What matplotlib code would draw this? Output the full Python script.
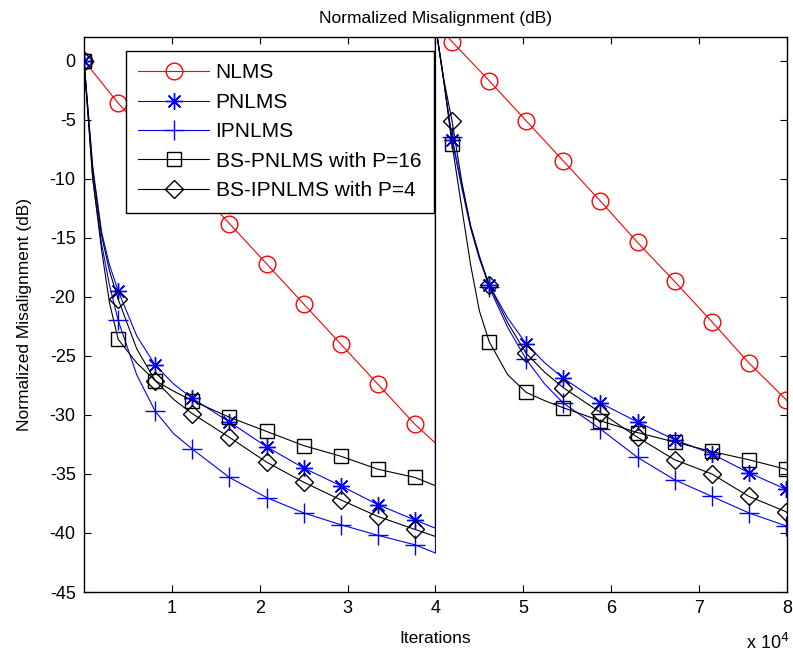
import matplotlib
matplotlib.use('Agg')
import matplotlib.pyplot as plt

plt.rcParams['font.family'] = ['Liberation Sans', 'DejaVu Sans']
plt.rcParams['axes.unicode_minus'] = False

# iteration grid for the proportionate / block-sparse curves
iters = [0, 500, 1000, 2000, 2900, 3890, 6000, 8112, 10220, 12334, 16556, 20778,
         25000, 29222, 33444, 37666, 39999, 40000, 41000, 41888, 43000, 44000,
         45000, 46110, 48221, 50332, 52443, 54554, 58776, 62998, 67220, 71442,
         75664, 79886, 80000]

# iterations where markers are drawn
marker_iters = [0, 3890, 8112, 12334, 16556, 20778, 25000, 29222, 33444, 37666,
                41888, 46110, 50332, 54554, 58776, 62998, 67220, 71442, 75664, 79886]

iters_nlms = [0, 3890, 8112, 12334, 16556, 20778, 25000, 29222, 33444, 37666, 39999,
              40000, 41888, 46110, 50332, 54554, 58776, 62998, 67220, 71442, 75664,
              79886, 80000]
nlms = [0, -3.6, -7.0, -10.4, -13.8, -17.2, -20.6, -24.0, -27.4, -30.8, -32.4,
        3.2, 1.6, -1.7, -5.1, -8.5, -11.9, -15.4, -18.7, -22.1, -25.6, -28.7, -28.8]

pnlms = [0, -4.5, -9, -14.5, -17.3, -19.5, -23.3, -25.8, -27.4, -28.6, -30.6, -32.7,
         -34.5, -36.0, -37.6, -38.9, -39.6, 3, -2, -6.7, -10.8, -14.2,
         -16.8, -19.0, -21.8, -24.0, -25.6, -26.9, -29.0, -30.6, -32.1, -33.3,
         -34.9, -36.3, -36.4]

ipnlms = [0, -5, -10, -15.5, -19, -22, -26.6, -29.7, -31.6, -32.9, -35.3, -37.0,
          -38.3, -39.3, -40.2, -41.0, -41.7, 3, -2, -6.5, -10.6, -14,
          -16.6, -19.2, -22.6, -25.3, -27.4, -29.0, -31.2, -33.6, -35.5, -36.9,
          -38.3, -39.4, -39.5]

bs_pnlms = [0, -5, -10, -16, -20.5, -23.6, -25.6, -27.1, -28.0, -28.8, -30.2, -31.4,
            -32.6, -33.5, -34.6, -35.3, -36.0, 3, -2, -7.1, -12.5, -17.3,
            -21.2, -23.8, -26.6, -28.1, -28.8, -29.4, -30.5, -31.5, -32.3, -33.1,
            -33.8, -34.6, -34.7]

bs_ipnlms = [0, -4.6, -9.3, -14.8, -17.8, -20.2, -24.4, -27.1, -28.7, -29.9, -31.9, -34.0,
             -35.7, -37.2, -38.6, -39.7, -40.3, 3, -1.8, -5.1, -10.3, -14,
             -16.6, -19.0, -22.2, -24.8, -26.4, -27.7, -29.8, -31.9, -33.8, -35.0,
             -36.9, -38.2, -38.3]

mk = [i for i, x in enumerate(iters) if x in marker_iters]
mk_nlms = [i for i, x in enumerate(iters_nlms) if x in marker_iters]

fig = plt.figure(figsize=(7.93, 6.53), dpi=100)
ax = fig.add_axes([0.1059, 0.0934, 0.8865, 0.8499])

lw = 0.8
ax.plot(iters_nlms, nlms, color='red', lw=lw, marker='o', ms=12, mfc='none',
        mec='red', markevery=mk_nlms, label='NLMS')
ax.plot(iters, pnlms, color='blue', lw=lw, marker=(8, 2, 0), ms=12,
        mec='blue', markevery=mk, label='PNLMS')
ax.plot(iters, ipnlms, color='blue', lw=lw, marker='+', ms=14, mew=1,
        markevery=mk, label='IPNLMS')
ax.plot(iters, bs_pnlms, color='black', lw=lw, marker='s', ms=10, mfc='none',
        mec='black', markevery=mk, label='BS-PNLMS with P=16')
ax.plot(iters, bs_ipnlms, color='black', lw=lw, marker='D', ms=9, mfc='none',
        mec='black', markevery=mk, label='BS-IPNLMS with P=4')

ax.set_xlim(0, 80000)
ax.set_ylim(-45, 2)
ax.set_xticks([10000, 20000, 30000, 40000, 50000, 60000, 70000, 80000])
ax.set_xticklabels(['1', '2', '3', '4', '5', '6', '7', '8'])
ax.set_yticks(range(-45, 1, 5))
ax.tick_params(direction='in', top=True, right=True, length=5, labelsize=13, pad=6)
for s in ax.spines.values():
    s.set_linewidth(1)

ax.set_title('Normalized Misalignment (dB)', fontsize=12.5, pad=10)
ax.set_xlabel('Iterations', fontsize=12.5, labelpad=10)
ax.set_ylabel('Normalized Misalignment (dB)', fontsize=12.5, labelpad=13)
fig.text(0.995, 0.0, r'x 10$^{4}$', ha='right', va='bottom', fontsize=13)

leg = ax.legend(loc='upper left', bbox_to_anchor=(0.0597, 0.975), borderaxespad=0,
                fancybox=False, edgecolor='black', framealpha=1, fontsize=15,
                handlelength=3.4, handletextpad=0.3, labelspacing=0.5,
                borderpad=0.6)
leg.get_frame().set_linewidth(1)

fig.savefig('out.png', dpi=100)
